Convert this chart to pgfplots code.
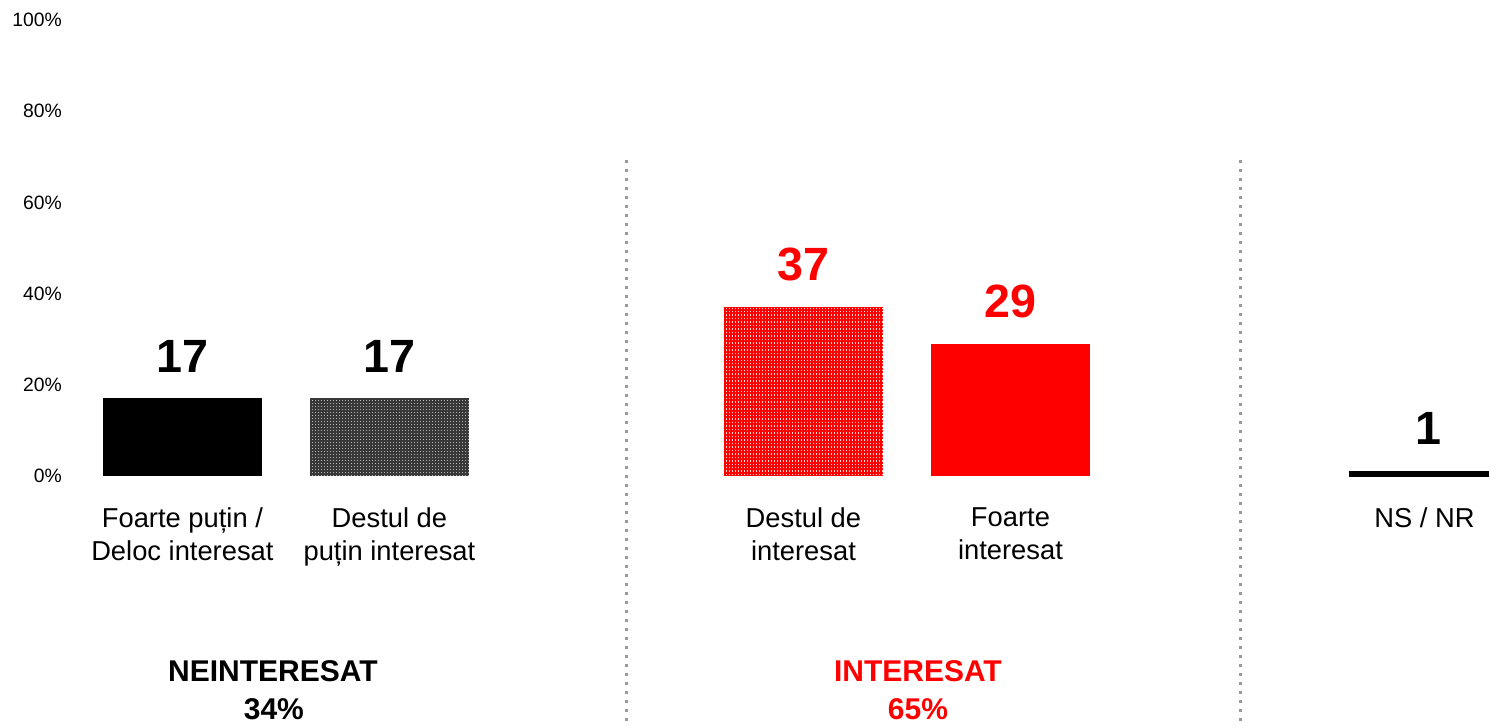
\documentclass[border=0pt]{standalone}
\usepackage{fontspec}
\setmainfont{Liberation Sans}
\usepackage{pgfplots}
\pgfplotsset{compat=1.18}
\usetikzlibrary{patterns}
\definecolor{sepgray}{HTML}{9A9A9A}

% fine dot grids, about one screen pixel per dot
\pgfdeclarepatternformonly{finedots}{\pgfqpoint{-0.1pt}{-0.1pt}}{\pgfqpoint{2.4pt}{2.4pt}}{\pgfqpoint{2.25pt}{2.25pt}}%
{\pgfpathrectangle{\pgfqpoint{0pt}{0pt}}{\pgfqpoint{0.8pt}{0.8pt}}\pgfusepath{fill}}
\pgfdeclarepatternformonly{reddots}{\pgfqpoint{-0.1pt}{-0.1pt}}{\pgfqpoint{2.4pt}{2.7pt}}{\pgfqpoint{2.25pt}{2.6pt}}%
{\pgfpathrectangle{\pgfqpoint{0pt}{0pt}}{\pgfqpoint{0.9pt}{1.1pt}}\pgfusepath{fill}}

\begin{document}
\begin{tikzpicture}
\useasboundingbox (-52.5pt,-186.75pt) rectangle (1064.25pt,357pt);
\clip (-52.5pt,-186.75pt) rectangle (1064.25pt,357pt);
\begin{axis}[
    scale only axis,
    width=1064.25pt, height=342pt,
    ybar,
    bar width=0.768,
    xmin=-0.543, xmax=6.312,
    ymin=0, ymax=100,
    enlargelimits=false,
    clip=false,
    axis line style={draw=none},
    major tick length=0pt,
    ytick={0,20,40,60,80,100},
    yticklabels={0\%,20\%,40\%,60\%,80\%,100\%},
    yticklabel style={font=\fontsize{14.5}{17}\selectfont, anchor=east, inner sep=0pt, xshift=-6pt},
    xtick={0,1,3,4,6},
    xticklabels={{Foarte puțin /\\Deloc interesat},{Destul de\\puțin interesat},{Destul de\\interesat},{Foarte\\interesat},{NS / NR}},
    xticklabel style={font=\fontsize{20.5}{24.75}\selectfont, align=center, anchor=north, inner sep=0pt, yshift=-23.5pt},
    /pgf/number format/assume math mode=true,
    nodes near coords,
    every node near coord/.append style={font=\bfseries\fontsize{35}{42}\selectfont, anchor=south, inner sep=0pt, yshift=19.5pt},
]
\addplot[bar shift=0pt, fill=black, draw=none] coordinates {(0,17)};
\addplot[bar shift=0pt, fill=black!78, draw=none, postaction={pattern=finedots, pattern color=black!30}] coordinates {(1,17)};
\addplot[bar shift=0pt, fill=red, draw=none, postaction={pattern=reddots, pattern color=white!85!red},
    every node near coord/.append style={text=red}] coordinates {(3,37)};
\addplot[bar shift=0pt, fill=red, draw=none, every node near coord/.append style={text=red}] coordinates {(4,29)};
\addplot[bar shift=0pt, fill=black, draw=black, line width=0.75pt] coordinates {(6.02,1)};

\draw[sepgray, line width=2.2pt, dash pattern=on 2.2pt off 4.55pt] (axis cs:2.147,69.3) -- (axis cs:2.147,-56);
\draw[sepgray, line width=2.2pt, dash pattern=on 2.2pt off 4.55pt] (axis cs:5.113,69.3) -- (axis cs:5.113,-56);

\node[anchor=base, inner sep=0pt, font=\bfseries\fontsize{22.5}{27}\selectfont] at (axis cs:0.437,-44.96) {NEINTERESAT};
\node[anchor=base, inner sep=0pt, font=\bfseries\fontsize{22.5}{27}\selectfont] at (axis cs:0.442,-53.3) {34\%};
\node[anchor=base, inner sep=0pt, text=red, font=\bfseries\fontsize{22.5}{27}\selectfont] at (axis cs:3.553,-44.96) {INTERESAT};
\node[anchor=base, inner sep=0pt, text=red, font=\bfseries\fontsize{22.5}{27}\selectfont] at (axis cs:3.553,-53.3) {65\%};
\end{axis}
\end{tikzpicture}
\end{document}
